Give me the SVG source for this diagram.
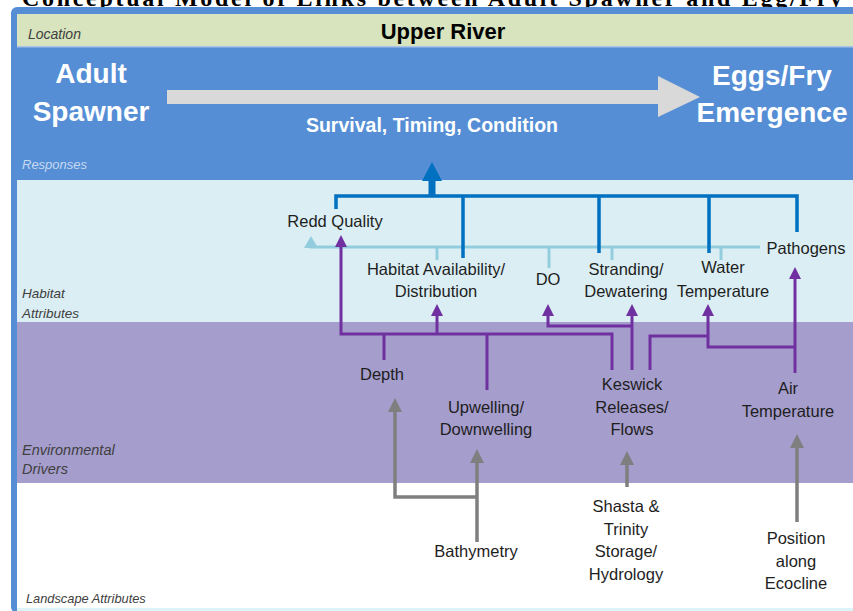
<svg xmlns="http://www.w3.org/2000/svg" width="853" height="611" viewBox="0 0 853 611">
<defs>
<style>
.lbl{font-family:"Liberation Sans",Arial,sans-serif;font-size:16.5px;fill:#1e1e1e;text-anchor:middle}
.band{font-family:"Liberation Sans",Arial,sans-serif;font-style:italic;fill:#404040}
.big{font-family:"Liberation Sans",Arial,sans-serif;font-weight:bold;fill:#ffffff;text-anchor:middle}
.pur{fill:none;stroke:#7030a0;stroke-width:3}
.gry{fill:none;stroke:#7f7f7f;stroke-width:3.5}
.dbl{fill:none;stroke:#0070c0;stroke-width:3.5}
.lbl2{fill:none;stroke:#93cddd;stroke-width:3}
</style>
<marker id="mp" viewBox="0 0 12 12" refX="2" refY="6" markerWidth="12" markerHeight="12" markerUnits="userSpaceOnUse" orient="auto"><path d="M0,0 L12,6 L0,12 z" fill="#7030a0"/></marker>
<marker id="mg" viewBox="0 0 14 14" refX="2" refY="7" markerWidth="14" markerHeight="14" markerUnits="userSpaceOnUse" orient="auto"><path d="M0,0 L14,7 L0,14 z" fill="#7f7f7f"/></marker>
<marker id="ml" viewBox="0 0 12 14" refX="2" refY="7" markerWidth="12" markerHeight="14" markerUnits="userSpaceOnUse" orient="auto"><path d="M0,0 L12,7 L0,14 z" fill="#93cddd"/></marker>
</defs>

<text x="22" y="6" font-family="Liberation Serif,serif" font-weight="bold" font-size="24" fill="#000" textLength="820" lengthAdjust="spacing">Conceptual Model of Links between Adult Spawner and Egg/Fry</text>

<g id="frame">
<rect x="11" y="7" width="850" height="606" rx="6" fill="#558ed5"/>
<rect x="17" y="14" width="836" height="32" fill="#d7e4bd"/>
<rect x="17" y="46" width="836" height="1.5" fill="#a9c4e8"/>
<rect x="17" y="180" width="836" height="142" fill="#dbeef4"/>
<rect x="17" y="322" width="836" height="161" fill="#a59dcc"/>
<rect x="17" y="483" width="836" height="125" fill="#ffffff"/>
<rect x="17" y="608" width="836" height="3" fill="#ddf3f8"/>
</g>

<g id="band-labels">
<text class="band" x="28" y="39" font-size="14" fill="#595959">Location</text>
<text class="band" x="22" y="169" font-size="13" style="fill:#c6d9f1">Responses</text>
<text class="band" x="22" y="298" font-size="13.5">Habitat</text>
<text class="band" x="22" y="318" font-size="13.5">Attributes</text>
<text class="band" x="22" y="455" font-size="14.5">Environmental</text>
<text class="band" x="22" y="474" font-size="14.5">Drivers</text>
<text class="band" x="26" y="603" font-size="12.8">Landscape Attributes</text>
</g>

<g id="title">
<text x="443" y="39" font-family="Liberation Sans,Arial,sans-serif" font-weight="bold" font-size="22" fill="#000" text-anchor="middle">Upper River</text>
</g>

<g id="adult-spawner">
<text class="big" x="91" y="83" font-size="28">Adult</text>
<text class="big" x="91" y="121" font-size="28">Spawner</text>
</g>
<g id="eggs-fry">
<text class="big" x="772" y="85" font-size="28">Eggs/Fry</text>
<text class="big" x="772" y="122" font-size="28">Emergence</text>
</g>
<g id="life-arrow">
<path d="M167,90 H658 V76 L700,97 L658,117 V104 H167 z" fill="#d9d9d9"/>
<text class="big" x="432" y="132" font-size="19.5">Survival, Timing, Condition</text>
</g>

<g id="connectors">
<path class="lbl2" d="M760,247 H311 V246" marker-end="url(#ml)"/>
<path class="lbl2" d="M437,247 V260 M549,247 V268 M612,247 V260 M721,247 V260"/>
<path class="dbl" d="M336,209 V196 H797 V232 M463,196 V258 M599,196 V253 M709,196 V253"/>
<path d="M428.5,197 V181 H422 L432,162 L442,181 H435.5 V197 z" fill="#0070c0"/>
<path class="pur" d="M612,370 V334 H341 V245" marker-end="url(#mp)"/>
<path class="pur" d="M384,360 V334 M487,390 V334"/>
<path class="pur" d="M437,334 V314" marker-end="url(#mp)"/>
<path class="pur" d="M632,370 V314" marker-end="url(#mp)"/>
<path class="pur" d="M632,326 H548 V314" marker-end="url(#mp)"/>
<path class="pur" d="M650,370 V336 H708"/>
<path class="pur" d="M795,373 V277" marker-end="url(#mp)"/>
<path class="pur" d="M795,347 H708 V314" marker-end="url(#mp)"/>
<path class="gry" d="M477,542 V461" marker-end="url(#mg)"/>
<path class="gry" d="M477,497 H395 V410" marker-end="url(#mg)"/>
<path class="gry" d="M627,487 V463" marker-end="url(#mg)"/>
<path class="gry" d="M797,522 V446" marker-end="url(#mg)"/>
</g>

<g id="redd-quality"><text class="lbl" x="335" y="227">Redd Quality</text></g>
<g id="habitat-availability"><text class="lbl" x="436" y="275">Habitat Availability/</text><text class="lbl" x="436" y="297">Distribution</text></g>
<g id="do"><text class="lbl" x="548" y="285">DO</text></g>
<g id="stranding"><text class="lbl" x="626" y="275">Stranding/</text><text class="lbl" x="626" y="297">Dewatering</text></g>
<g id="water-temperature"><text class="lbl" x="723" y="273">Water</text><text class="lbl" x="723" y="297">Temperature</text></g>
<g id="pathogens"><text class="lbl" x="806" y="254">Pathogens</text></g>

<g id="depth"><text class="lbl" x="382" y="380">Depth</text></g>
<g id="upwelling"><text class="lbl" x="486" y="413">Upwelling/</text><text class="lbl" x="486" y="435">Downwelling</text></g>
<g id="keswick"><text class="lbl" x="632" y="390">Keswick</text><text class="lbl" x="632" y="413">Releases/</text><text class="lbl" x="632" y="435">Flows</text></g>
<g id="air-temperature"><text class="lbl" x="788" y="394">Air</text><text class="lbl" x="788" y="417">Temperature</text></g>

<g id="bathymetry"><text class="lbl" x="476" y="557">Bathymetry</text></g>
<g id="shasta"><text class="lbl" x="626" y="512">Shasta &amp;</text><text class="lbl" x="626" y="535">Trinity</text><text class="lbl" x="626" y="557">Storage/</text><text class="lbl" x="626" y="580">Hydrology</text></g>
<g id="position"><text class="lbl" x="796" y="544">Position</text><text class="lbl" x="796" y="567">along</text><text class="lbl" x="796" y="589">Ecocline</text></g>
</svg>
